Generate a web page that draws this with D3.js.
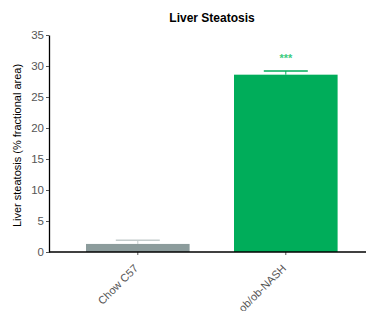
<!DOCTYPE html>
<html>
<head>
<meta charset="utf-8">
<script src="https://cdn.jsdelivr.net/npm/d3@7"></script>
<style>
  body { margin: 0; background: #fff; }
  text { font-family: "Liberation Sans", Arial, sans-serif; }
</style>
</head>
<body>
<svg width="367" height="311"></svg>
<script>
const groups = ['Chow C57', 'ob/ob-NASH'];
const means = [1.3, 28.6];
const errors = [0.6, 0.6];
const colors = ['#8c9c9c', '#00ad5a'];
const errColors = ['#c4cccc', '#00ad5a'];
const yTicks = [0, 5, 10, 15, 20, 25, 30, 35];

const svg = d3.select('svg');
const margin = { left: 49, top: 35, bottom: 252 };

const y = d3.scaleLinear().domain([0, 35]).range([margin.bottom, margin.top]);
const x = d3.scaleBand().domain(groups).range([margin.left, 374.6])
  .paddingInner(0.3).paddingOuter(0.25);

// bars
svg.append('g').selectAll('rect')
  .data(groups)
  .enter().append('rect')
    .attr('x', d => x(d))
    .attr('y', (d, i) => y(means[i]))
    .attr('width', x.bandwidth())
    .attr('height', (d, i) => y(0) - y(means[i]))
    .attr('fill', (d, i) => colors[i]);

// error bars
const err = svg.append('g');
groups.forEach((g, i) => {
  const cx = x(g) + x.bandwidth() / 2;
  err.append('line')
    .attr('x1', cx).attr('x2', cx)
    .attr('y1', y(means[i])).attr('y2', y(means[i] + errors[i]))
    .attr('stroke', errColors[i]).attr('stroke-width', 1);
  err.append('line')
    .attr('x1', cx - 22).attr('x2', cx + 22)
    .attr('y1', y(means[i] + errors[i])).attr('y2', y(means[i] + errors[i]))
    .attr('stroke', errColors[i]).attr('stroke-width', 1.5);
});

// significance
svg.append('text')
  .attr('x', x('ob/ob-NASH') + x.bandwidth() / 2)
  .attr('y', 62)
  .attr('text-anchor', 'middle')
  .attr('font-size', 11)
  .attr('font-weight', 'bold')
  .attr('fill', '#3ccc80')
  .text('***');

// y axis
const yAxis = svg.append('g')
  .attr('transform', `translate(${margin.left},0)`)
  .call(d3.axisLeft(y).tickValues(yTicks).tickSize(3).tickSizeOuter(0));
yAxis.select('.domain').attr('stroke', '#000').attr('stroke-width', 1.3);
yAxis.selectAll('.tick line').attr('stroke', '#555');
yAxis.selectAll('.tick text')
  .attr('font-size', 11.5).attr('fill', '#555')
  .attr('font-family', '"Liberation Sans", Arial, sans-serif')
  .attr('x', -5);

// x axis
const xAxis = svg.append('g')
  .attr('transform', `translate(0,${margin.bottom})`)
  .call(d3.axisBottom(x).tickSize(3).tickSizeOuter(0));
xAxis.select('.domain').remove();
svg.append('line')
  .attr('x1', margin.left).attr('x2', 366)
  .attr('y1', margin.bottom).attr('y2', margin.bottom)
  .attr('stroke', '#000').attr('stroke-width', 1.3);
xAxis.selectAll('.tick line').attr('stroke', '#555');
xAxis.selectAll('.tick text')
  .attr('font-size', 11)
  .attr('fill', '#555')
  .attr('font-family', '"Liberation Sans", Arial, sans-serif')
  .attr('text-anchor', 'end')
  .attr('dy', 0)
  .attr('y', 0)
  .attr('transform', 'translate(1,17) rotate(-45)');

// title
svg.append('text')
  .attr('x', 212).attr('y', 22)
  .attr('text-anchor', 'middle')
  .attr('font-size', 12)
  .attr('font-weight', 'bold')
  .text('Liver Steatosis');

// y label
svg.append('text')
  .attr('transform', `translate(21,${(margin.top + margin.bottom) / 2 + 2}) rotate(-90)`)
  .attr('text-anchor', 'middle')
  .attr('font-size', 11)
  .text('Liver steatosis (% fractional area)');
</script>
</body>
</html>
